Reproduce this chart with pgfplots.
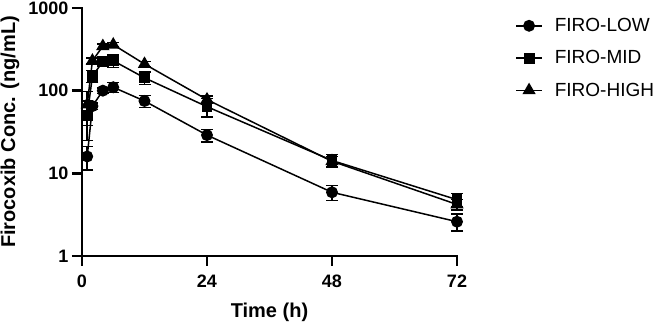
\documentclass[border=0pt]{standalone}
\usepackage{pgfplots}
\pgfplotsset{compat=1.18}
\usepackage{fontspec}
\setmainfont{Liberation Sans}

\begin{document}
\begin{tikzpicture}[x=1pt,y=1pt]
\useasboundingbox (0,0) rectangle (663,324);
\begin{axis}[
  at={(82pt,68pt)}, anchor=south west,
  scale only axis, width=375pt, height=248pt,
  ymode=log, xmin=0, xmax=72, ymin=1, ymax=1000,
  clip=false,
  axis lines*=left,
  axis line style={line width=2.6pt, line cap=rect},
  xtick={0,24,48,72}, xticklabels={0,24,48,72},
  ytick={1,10,100,1000}, yticklabels={1,10,100,1000},
  yminorticks=false,
  tick align=outside, major tick length=10pt,
  tick style={line width=2.6pt, black},
  ticklabel style={font=\fontsize{18}{20}\selectfont\bfseries},
  xticklabel style={yshift=-5pt},
  yticklabel style={xshift=0pt},
  xlabel={Time (h)},
  ylabel={Firocoxib Conc. (ng/mL)},
  label style={font=\fontsize{20}{22}\selectfont\bfseries},
  xlabel style={at={(axis description cs:0.5,0)}, anchor=center, yshift=-56pt},
  ylabel style={at={(axis description cs:0,0.5)}, anchor=center, yshift=72pt},
  every axis plot/.append style={black, line width=1.5pt},
  error bars/y dir=both, error bars/y explicit,
  error bars/error bar style={line width=1.5pt},
  error bars/error mark options={rotate=90, mark size=6pt, line width=1.5pt},
  legend style={at={(1.147,0.975)}, anchor=north west, draw=none, fill=none,
    font=\fontsize{19}{21}\selectfont, row sep=13.5pt,
    /tikz/every odd column/.append style={column sep=10pt}},
  legend cell align=left,
  legend image code/.code={
    \draw[mark repeat=2, mark phase=2, #1]
      plot coordinates {(0pt,0pt) (13pt,0pt) (26pt,0pt)};},
]
% low dose
\addplot[mark=*, mark size=5.2pt] coordinates {
  (1,16) +- (0,5)
  (2,65) +- (0,6)
  (4,100) +- (0,8)
  (6,110) +- (0,15)
  (12,75) +- (0,12)
  (24,29) +- (0,5)
  (48,5.9) +- (0,1.2)
  (72,2.6) +- (0,0.6)
};
\addlegendentry{FIRO-LOW}
% mid dose
\addplot[mark=square*, mark size=4.7pt] coordinates {
  (1,50) +- (0,25)
  (2,150) +- (0,25)
  (4,225) +- (0,30)
  (6,230) +- (0,40)
  (12,143) +- (0,25)
  (24,64) +- (0,16)
  (48,14.3) +- (0,2.5)
  (72,4.8) +- (0,0.9)
};
\addlegendentry{FIRO-MID}
% high dose
\addplot[mark=triangle*, mark size=6.2pt] coordinates {
  (1,68) +- (0,30)
  (2,230) +- (0,20)
  (4,345) +- (0,20)
  (6,360) +- (0,20)
  (12,210) +- (0,15)
  (24,78) +- (0,8)
  (48,14) +- (0,2)
  (72,4.2) +- (0,0.6)
};
\addlegendentry{FIRO-HIGH}
\end{axis}
\end{tikzpicture}
\end{document}
